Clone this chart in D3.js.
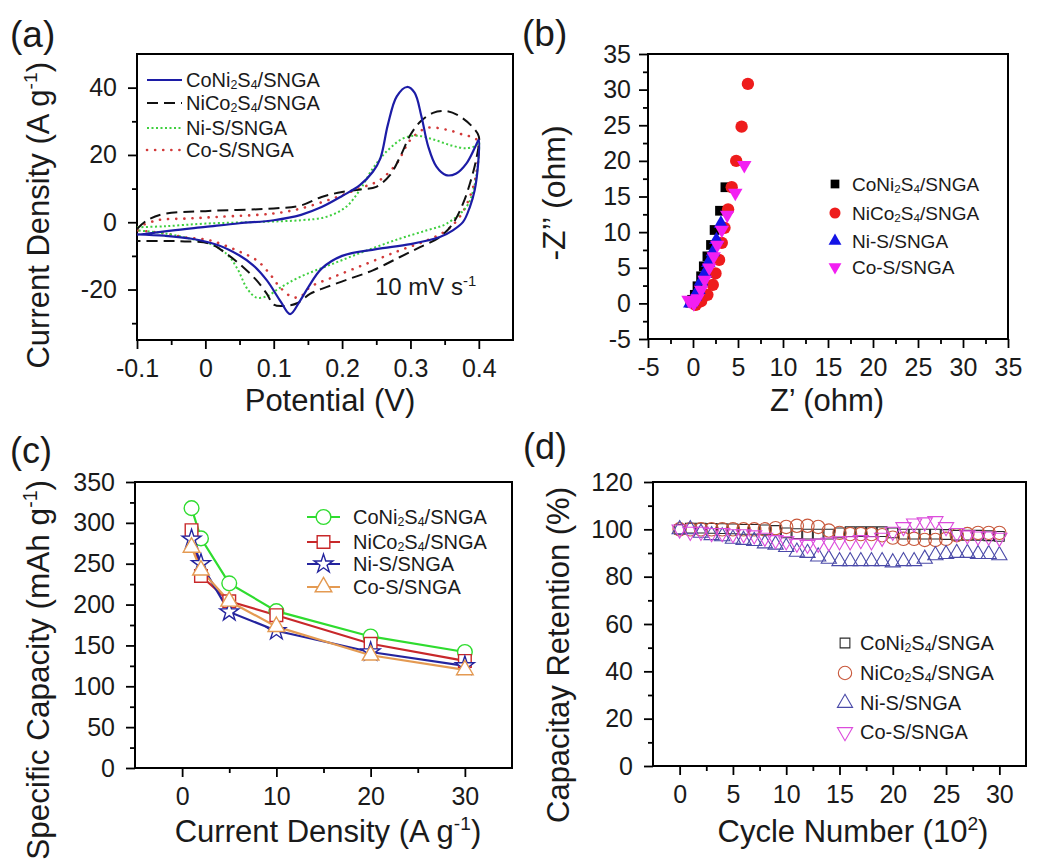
<!DOCTYPE html>
<html>
<head>
<meta charset="utf-8">
<script src="https://cdn.jsdelivr.net/npm/d3@7"></script>
<style>
body{margin:0;background:#fff}
svg{font-family:"Liberation Sans",Arial,sans-serif}
</style>
</head>
<body>
<div id="chart"></div>
<script>
const names = ["CoNi2S4/SNGA","NiCo2S4/SNGA","Ni-S/SNGA","Co-S/SNGA"];

// (a) CV curves, [potential V, current A/g], anodic branch then cathodic branch
const cvCoNi2S4 = [[-0.1,-3.8],[-0.05,-2.5],[0,-1.4],[0.05,-0.3],[0.1,0.6],[0.14,2.2],[0.17,4.5],[0.2,7.8],[0.226,11],[0.245,15],[0.256,19],[0.267,29],[0.28,37.4],[0.295,40.2],[0.306,38.5],[0.316,31.5],[0.326,22.5],[0.338,16.5],[0.352,14],[0.367,14.5],[0.382,17.5],[0.395,22.5],[0.4,24.5],
  [0.399,17.4],[0.394,9.6],[0.387,4.6],[0.377,0.1],[0.362,-2.4],[0.343,-4.4],[0.3,-6.5],[0.25,-8],[0.2,-10],[0.17,-13.8],[0.15,-19.5],[0.138,-23.5],[0.124,-27.3],[0.11,-23.5],[0.09,-17.3],[0.07,-12.8],[0.05,-9.9],[0.02,-6.9],[-0.02,-4.9],[-0.06,-4],[-0.1,-3.6]];
const cvNiCo2S4 = [[-0.1,-2],[-0.085,0.6],[-0.06,2.5],[0,3.3],[0.1,4.1],[0.14,5],[0.17,7.5],[0.2,9],[0.23,9.8],[0.25,10.5],[0.27,14],[0.285,19.5],[0.3,26],[0.315,30],[0.333,32.5],[0.353,33],[0.372,31.5],[0.39,28.5],[0.4,25.5],
  [0.397,19.5],[0.387,11.5],[0.377,5.6],[0.362,-0.4],[0.343,-4.4],[0.314,-7.4],[0.284,-10.4],[0.245,-14.3],[0.211,-16.8],[0.177,-19.3],[0.153,-21.3],[0.135,-24],[0.12,-24.8],[0.1,-24.5],[0.09,-21.3],[0.075,-17.3],[0.055,-13.3],[0.031,-9.4],[0.007,-6.4],[-0.03,-5.7],[-0.06,-5.6],[-0.1,-5.6]];
const cvNiS = [[-0.1,-1.5],[-0.06,-1.2],[0,-0.4],[0.08,0.1],[0.14,0.6],[0.177,1.6],[0.206,4.6],[0.226,9.6],[0.245,16],[0.265,21],[0.29,25],[0.31,25.7],[0.335,24.5],[0.36,22.8],[0.382,22],[0.397,23],[0.4,24.5],
  [0.399,17.5],[0.392,9.6],[0.382,4.6],[0.353,-0.4],[0.324,-2.4],[0.284,-4.9],[0.236,-8.4],[0.187,-12.3],[0.138,-16.3],[0.109,-19.5],[0.09,-22],[0.075,-22.4],[0.062,-20],[0.046,-13.5],[0.031,-9.4],[0.007,-6.4],[-0.02,-5],[-0.057,-3.4],[-0.1,-2.4]];
const cvCoS = [[-0.1,-1.5],[-0.07,0.6],[-0.027,1.1],[0.02,1.6],[0.1,2.6],[0.138,4],[0.187,7.1],[0.226,10.1],[0.255,12.5],[0.28,17.5],[0.3,24.5],[0.324,28],[0.353,27.5],[0.377,26],[0.397,24.5],
  [0.397,15.5],[0.387,7.6],[0.372,1.6],[0.353,-2.4],[0.324,-5.4],[0.284,-8.4],[0.236,-12.3],[0.187,-16.3],[0.153,-19.3],[0.138,-22.3],[0.125,-22],[0.109,-19.3],[0.094,-15.3],[0.075,-11.3],[0.046,-8.4],[0.007,-5.4],[-0.03,-4.5],[-0.057,-3.4],[-0.1,-2.4]];

// (b) Nyquist, [Z', -Z'']
const eisCoNi2S4 = [[3.6,16.3],[3.0,13.0],[2.4,10.3],[2.0,8.2],[1.6,6.6],[1.2,5.2],[0.9,3.8],[0.5,2.4],[0.2,1.2],[-0.1,0.5],[-0.3,0.1]];
const eisNiCo2S4 = [[6.1,30.8],[5.4,24.8],[4.8,20.0],[4.3,16.3],[3.9,13.2],[3.5,10.6],[3.2,8.5],[2.9,6.1],[2.5,4.2],[2.2,2.6],[1.6,1.2],[0.9,0.3],[0.3,-0.2]];
const eisNiS = [[3.1,11.2],[2.6,8.9],[2.2,7.2],[1.7,5.7],[1.3,4.2],[0.9,3.1],[0.6,1.9],[0.2,1.0],[-0.1,0.3],[-0.3,0]];
const eisCoS = [[5.7,19.4],[4.7,15.5],[3.8,12.4],[3.2,10.3],[2.7,8.2],[2.3,6.6],[1.8,5.0],[1.3,3.3],[0.9,1.9],[0.5,0.7],[0.1,0.0],[-0.3,0.3],[-0.5,0.5]];

// (c) rate capability
const rateX = [1,2,5,10,20,30];
const capCoNi2S4 = [318,281,226,192,161,142];
const capNiCo2S4 = [291,235,204,187,152,131];
const capNiS = [280,250,191,168,142,125];
const capCoS = [270,242,204,173,138,120];

// (d) cycling, cycle number in 10^2
const cycleX = [0,1,2,3,4,5,6,7,8,9,10,11,12,13,14,15,16,17,18,19,20,21,22,23,24,25,26,27,28,29,30];
const retCoNi2S4 = [100,100.5,100.5,100.4,100.3,100.2,100,100,99.8,99.5,98.5,98.2,98,98,98,98.5,99,99,99,99,98.5,98,98,98,98,97.8,97.5,97.5,97.5,97.3,97];
const retNiCo2S4 = [100,100,100,100,100,100,100,100,100,100.5,101,101.5,101.5,101,99.5,98.5,98,98,98,97.5,96.5,96,96,95.5,95.5,96,97.5,98,98.5,98.5,98.5];
const retNiS = [100,100,98.5,97.5,97,96,95.5,95,94,93.5,92.5,90.5,90,88.5,87.5,86.5,86.5,86.5,86.5,86.5,86,86.5,86.5,87.5,89,89.5,90,90,89.5,89.5,89];
const retCoS = [100,99,99,98.5,98.5,98,98,97.5,96.5,95.5,95,94,93.5,94,94.5,95,95,95.5,95,96.5,99,101,102.5,103,103.5,101,98.5,97.5,97,97,96.5];

const FONT = '"Liberation Sans", Arial, sans-serif';
const svg = d3.select("#chart").append("svg").attr("width",1049).attr("height",861);

function axes(p){
  const x = d3.scaleLinear().domain(p.xd).range([p.l,p.r]);
  const y = d3.scaleLinear().domain(p.yd).range([p.b,p.t]);
  const g = svg.append("g");
  g.append("g").attr("transform",`translate(0,${p.b})`)
    .call(d3.axisBottom(x).tickValues(p.xMinor).tickSize(5).tickFormat(()=>""));
  g.append("g").attr("transform",`translate(0,${p.b})`)
    .call(d3.axisBottom(x).tickValues(p.xMajor).tickSize(9).tickPadding(10).tickFormat(d=>String(d)));
  g.append("g").attr("transform",`translate(${p.l},0)`)
    .call(d3.axisLeft(y).tickValues(p.yMinor).tickSize(5).tickFormat(()=>""));
  g.append("g").attr("transform",`translate(${p.l},0)`)
    .call(d3.axisLeft(y).tickValues(p.yMajor).tickSize(9).tickPadding(p.ypad||11).tickFormat(d=>String(d)));
  g.selectAll(".domain").remove();
  g.selectAll(".tick line").attr("stroke","#000").attr("stroke-width",1.8);
  g.selectAll(".tick text").attr("font-family",FONT).attr("font-size",25).attr("fill","#1a1a1a");
  g.append("rect").attr("x",p.l).attr("y",p.t).attr("width",p.r-p.l).attr("height",p.b-p.t)
    .attr("fill","none").attr("stroke","#000").attr("stroke-width",2);
  return {x,y};
}

function rich(sel, parts, size){
  let shift = 0;
  parts.forEach(pt=>{
    const want = pt.sup ? -0.38*size : (pt.sub ? 0.1*size : 0);
    const ts = sel.append("tspan").attr("dy", want-shift).text(pt.t);
    if(pt.sup||pt.sub) ts.attr("font-size", size*0.62);
    shift = want;
  });
}
function chemParts(name){
  return name.split(/(\d)/).filter(s=>s).map(s=>/^\d$/.test(s)?{t:s,sub:true}:{t:s});
}
function label(x,y,parts,size,opt={}){
  const t = svg.append("text").attr("x",x).attr("y",y).attr("font-size",size).attr("fill","#1a1a1a")
    .attr("text-anchor",opt.anchor||"start");
  if(opt.rot) t.attr("transform",`rotate(-90,${x},${y})`);
  rich(t, parts, size);
  return t;
}

// panel labels
label(10,47,[{t:"(a)"}],37);
label(522,46,[{t:"(b)"}],37);
label(10,463,[{t:"(c)"}],36);
label(523,459,[{t:"(d)"}],36);

// ---------- (a) ----------
const pa = {l:137,r:513,t:54,b:340,xd:[-0.1,0.45],yd:[-35,50],
  xMajor:[-0.1,0,0.1,0.2,0.3,0.4],xMinor:[-0.05,0.05,0.15,0.25,0.35],
  yMajor:[-20,0,20,40],yMinor:[-30,-10,10,30]};
const A = axes(pa);
svg.append("clipPath").attr("id","clipA").append("rect")
  .attr("x",pa.l).attr("y",pa.t).attr("width",pa.r-pa.l).attr("height",pa.b-pa.t);
const cvStyles = [
  {data:cvCoNi2S4,color:"#1c1ca6",w:2.2,dash:null,cap:"butt"},
  {data:cvNiCo2S4,color:"#111",w:2,dash:"11 6",cap:"butt"},
  {data:cvNiS,color:"#3fcf3f",w:2,dash:"2 2.5",cap:"butt"},
  {data:cvCoS,color:"#d23a3a",w:2.6,dash:"0.1 8",cap:"round"}
];
const lineA = d3.line().x(d=>A.x(d[0])).y(d=>A.y(d[1])).curve(d3.curveCatmullRom.alpha(0.5));
const gA = svg.append("g").attr("clip-path","url(#clipA)");
[cvStyles[3],cvStyles[2],cvStyles[1],cvStyles[0]].forEach(s=>{
  gA.append("path").attr("d",lineA(s.data)).attr("fill","none").attr("stroke",s.color)
    .attr("stroke-width",s.w).attr("stroke-dasharray",s.dash).attr("stroke-linecap",s.cap);
});
const legAy = [80,103,128,150];
cvStyles.forEach((s,i)=>{
  svg.append("line").attr("x1",147).attr("x2",182).attr("y1",legAy[i]).attr("y2",legAy[i])
    .attr("stroke",s.color).attr("stroke-width",s.w).attr("stroke-dasharray",s.dash).attr("stroke-linecap",s.cap);
  label(186,legAy[i]+7,chemParts(names[i]),20);
});
label(375,295,[{t:"10 mV s"},{t:"-1",sup:true}],24);
label(49,62,[{t:"Current Density (A g"},{t:"-1",sup:true},{t:")"}],31,{rot:true,anchor:"end"});
label(330,411,[{t:"Potential (V)"}],31,{anchor:"middle"});

// ---------- (b) ----------
const pb = {l:648,r:1008,t:54,b:339,xd:[-5,35],yd:[-5,35],ypad:8,
  xMajor:[-5,0,5,10,15,20,25,30,35],xMinor:[-2.5,2.5,7.5,12.5,17.5,22.5,27.5,32.5],
  yMajor:[-5,0,5,10,15,20,25,30,35],yMinor:[-2.5,2.5,7.5,12.5,17.5,22.5,27.5,32.5]};
const B = axes(pb);
const eisSets = [
  {data:eisCoNi2S4,color:"#000",type:d3.symbolSquare,size:95,rot:0},
  {data:eisNiCo2S4,color:"#ee1c1c",type:d3.symbolCircle,size:120,rot:0},
  {data:eisNiS,color:"#1414e6",type:d3.symbolTriangle,size:90,rot:0},
  {data:eisCoS,color:"#f21ff2",type:d3.symbolTriangle,size:90,rot:180}
];
eisSets.forEach(s=>{
  svg.append("g").selectAll("path").data(s.data).join("path")
    .attr("d",d3.symbol().type(s.type).size(s.size))
    .attr("transform",d=>`translate(${B.x(d[0])},${B.y(d[1])}) rotate(${s.rot})`)
    .attr("fill",s.color);
});
const legBy = [184,213,241,267];
eisSets.forEach((s,i)=>{
  svg.append("path").attr("d",d3.symbol().type(s.type).size(s.size*0.8)())
    .attr("transform",`translate(835,${legBy[i]}) rotate(${s.rot})`).attr("fill",s.color);
  label(852,legBy[i]+7,chemParts(names[i]),19);
});
label(565,193,[{t:"-Z\u2019\u2019 (ohm)"}],32,{rot:true,anchor:"middle"});
label(827,411,[{t:"Z\u2019 (ohm)"}],31,{anchor:"middle"});

// ---------- (c) ----------
const pc = {l:135,r:512,t:482,b:768,xd:[-5,35],yd:[0,350],
  xMajor:[0,10,20,30],xMinor:[5,15,25],
  yMajor:[0,50,100,150,200,250,300,350],yMinor:[25,75,125,175,225,275,325]};
const C = axes(pc);
const capSets = [
  {vals:capCoNi2S4,color:"#2fdc2f",type:d3.symbolCircle,size:170},
  {vals:capNiCo2S4,color:"#c8282a",type:d3.symbolSquare,size:160},
  {vals:capNiS,color:"#24249e",type:d3.symbolStar,size:110},
  {vals:capCoS,color:"#e49a52",type:d3.symbolTriangle,size:120}
];
const lineC = d3.line().x(d=>C.x(d[0])).y(d=>C.y(d[1]));
capSets.forEach(s=>{
  const pts = rateX.map((v,i)=>[v,s.vals[i]]);
  svg.append("path").attr("d",lineC(pts)).attr("fill","none").attr("stroke",s.color).attr("stroke-width",2.2);
});
capSets.forEach(s=>{
  const pts = rateX.map((v,i)=>[v,s.vals[i]]);
  svg.append("g").selectAll("path").data(pts).join("path")
    .attr("d",d3.symbol().type(s.type).size(s.size))
    .attr("transform",d=>`translate(${C.x(d[0])},${C.y(d[1])})`)
    .attr("fill","#fff").attr("stroke",s.color).attr("stroke-width",1.4);
});
const legCy = [517,542,564,587];
capSets.forEach((s,i)=>{
  svg.append("line").attr("x1",307).attr("x2",340).attr("y1",legCy[i]).attr("y2",legCy[i])
    .attr("stroke",s.color).attr("stroke-width",2.2);
  svg.append("path").attr("d",d3.symbol().type(s.type).size(s.size)())
    .attr("transform",`translate(323.5,${legCy[i]})`).attr("fill","#fff").attr("stroke",s.color).attr("stroke-width",1.4);
  label(353,legCy[i]+7,chemParts(names[i]),20);
});
label(49,480,[{t:"Specific Capacity (mAh g"},{t:"-1",sup:true},{t:")"}],31.5,{rot:true,anchor:"end"});
label(328,842,[{t:"Current Density (A g"},{t:"-1",sup:true},{t:")"}],31,{anchor:"middle"});

// ---------- (d) ----------
const pd = {l:653,r:1026,t:482,b:766,xd:[-2.5,32.5],yd:[0,120],
  xMajor:[0,5,10,15,20,25,30],xMinor:[2.5,7.5,12.5,17.5,22.5,27.5],
  yMajor:[0,20,40,60,80,100,120],yMinor:[10,30,50,70,90,110]};
const D = axes(pd);
const retSets = [
  {vals:retCoNi2S4,color:"#2a2a2a",type:d3.symbolSquare,size:95,rot:0},
  {vals:retNiCo2S4,color:"#c8573a",type:d3.symbolCircle,size:140,rot:0},
  {vals:retNiS,color:"#4a4aa8",type:d3.symbolTriangle,size:100,rot:0},
  {vals:retCoS,color:"#dc4cdc",type:d3.symbolTriangle,size:100,rot:180}
];
retSets.forEach(s=>{
  const pts = cycleX.map((v,i)=>[v,s.vals[i]]);
  svg.append("g").selectAll("path").data(pts).join("path")
    .attr("d",d3.symbol().type(s.type).size(s.size))
    .attr("transform",d=>`translate(${D.x(d[0])},${D.y(d[1])}) rotate(${s.rot})`)
    .attr("fill","none").attr("stroke",s.color).attr("stroke-width",1.1);
});
const legDy = [643,673,703,732];
retSets.forEach((s,i)=>{
  svg.append("path").attr("d",d3.symbol().type(s.type).size(s.size)())
    .attr("transform",`translate(845,${legDy[i]}) rotate(${s.rot})`)
    .attr("fill","none").attr("stroke",s.color).attr("stroke-width",1.1);
  label(860,legDy[i]+7,chemParts(names[i]),20);
});
label(569,487,[{t:"Capacitay Retention (%)"}],31,{rot:true,anchor:"end"});
label(853,842,[{t:"Cycle Number (10"},{t:"2",sup:true},{t:")"}],31,{anchor:"middle"});
</script>
</body>
</html>
